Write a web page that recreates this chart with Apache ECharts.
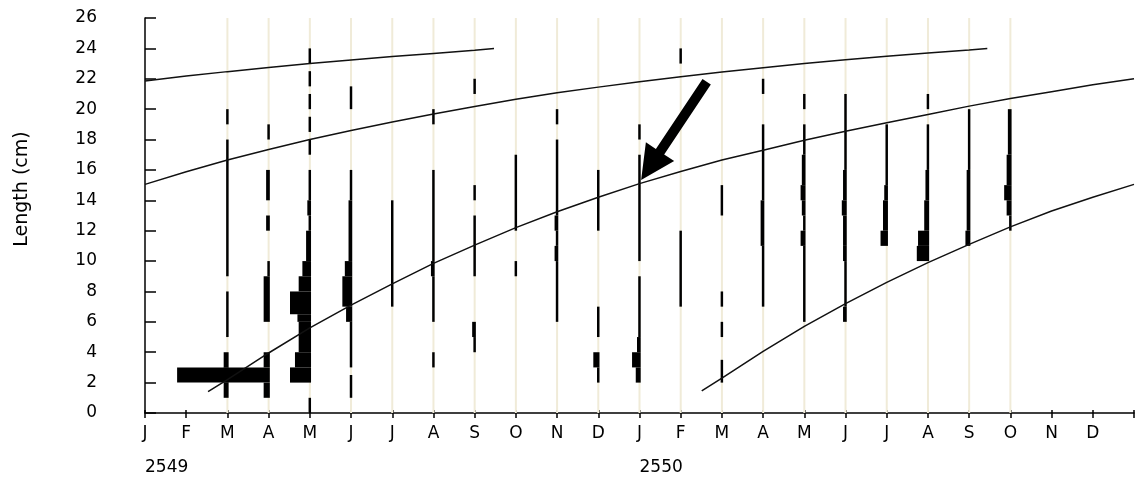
<!DOCTYPE html>
<html><head><meta charset="utf-8">
<script src="https://cdn.jsdelivr.net/npm/echarts@6/dist/echarts.min.js"></script>
<style>html,body{margin:0;padding:0;background:#fff}#c{width:1137px;height:480px}</style>
</head><body><div id="c"></div>
<script>
// ---- data ----
const monthLabels = ['J','F','M','A','M','J','J','A','S','O','N','D','J','F','M','A','M','J','J','A','S','O','N','D'];
const yearTicks = [0, 12];
const yearNames = ['2549', '2550'];
const yAxisName = 'Length (cm)';
// sample dates (month index from J 2549)
const sampleMonths = [2,3,4,5,6,7,8,9,10,11,12,13,14,15,16,17,18,19,20,21];
// length-frequency histograms: [month, class low (cm), class high (cm), relative frequency]
const histogram = [
  [2,19,20,2],[2,9,18,2],[2,5,8,2],[2,3,4,4],[2,2,3,4],[2,1,2,4],
  [3,18,19,2],[3,14,16,3],[3,12,13,3],[3,9,10,2],[3,6,9,5],[3,3,4,5],[3,2,3,75],[3,1,2,5],
  [4,23,24,2],[4,21.5,22.5,2],[4,20,21,2],[4,18.5,19.5,2],[4,17,18,2],[4,14,16,2],[4,13,14,3],[4,12,13,2],
  [4,10,12,4],[4,9,10,7],[4,8,9,10],[4,6.5,8,17],[4,6,6.5,11],[4,4,6,10],[4,3,4,13],[4,2,3,17],[4,0,1,2],
  [5,20,21.5,2],[5,14,16,2],[5,10,14,3],[5,9,10,6],[5,7,9,8],[5,6,7,5],[5,3,6,2],[5,1,2.5,2],
  [6,7,14,2],
  [7,19,20,2],[7,10,16,2],[7,9,10,3],[7,6,9,2],[7,3,4,2],
  [8,21,22,2],[8,14,15,2],[8,9,13,2],[8,5,6,3],[8,4,5,2],
  [9,12,17,2],[9,9,10,2],
  [10,19,20,2],[10,13,18,2],[10,12,13,3],[10,11,12,2],[10,10,11,3],[10,6,10,2],
  [11,12,16,2],[11,5,7,2],[11,3,4,5],[11,2,3,2],
  [12,18,19,2],[12,10,17,2],[12,5,9,2],[12,4,5,3],[12,3,4,7],[12,2,3,4],
  [13,23,24,2],[13,7,12,2],
  [14,13,15,2],[14,7,8,2],[14,5,6,2],[14,2,3.5,2],
  [15,21,22,2],[15,14,19,2],[15,11,14,3],[15,7,11,2],
  [16,20,21,2],[16,17,19,2],[16,15,17,3],[16,14,15,4],[16,13,14,3],[16,12,13,2],[16,11,12,4],[16,6,11,2],
  [17,16,21,2],[17,14,16,3],[17,13,14,4],[17,11,13,3],[17,10,11,3],[17,7,10,2],[17,6,7,3],
  [18,15,19,2],[18,14,15,3],[18,12,14,4],[18,11,12,6],
  [19,20,21,2],[19,16,19,2],[19,14,16,3],[19,12,14,4],[19,11,12,9],[19,10,11,10],
  [20,16,20,2],[20,12,16,3],[20,11,12,4],
  [21,17,20,3],[21,15,17,4],[21,14,15,6],[21,13,14,4],[21,12,13,2]
];
// growth curves: [month, length]
const curveA = [[0,21.86],[1,22.18],[2,22.47],[3,22.74],[4,23.0],[5,23.24],[6,23.46],[7,23.67],[8,23.88],[8.47,24.0]];
const curveB = [[0,15.05],[1,15.88],[2,16.65],[3,17.35],[4,18.0],[5,18.6],[6,19.15],[7,19.68],[8,20.18],[9,20.65],[10,21.08],
  [11,21.45],[12,21.8],[13,22.14],[14,22.45],[15,22.73],[16,23.0],[17,23.25],[18,23.48],[19,23.69],[20,23.89],[20.44,24.0]];
const curveC = [[1.53,1.4],[2,2.2],[3,3.95],[4,5.6],[5,7.1],[6,8.5],[7,9.85],[8,11.05],[9,12.2],[10,13.25],[11,14.2],[12,15.1],
  [13,15.9],[14,16.65],[15,17.3],[16,17.95],[17,18.55],[18,19.1],[19,19.65],[20,20.2],[21,20.7],[22,21.15],[23,21.6],[24,22.0]];
const curveD = [[13.51,1.45],[14,2.3],[15,4.05],[16,5.7],[17,7.2],[18,8.6],[19,9.9],[20,11.1],[21,12.25],[22,13.3],[23,14.2],[24,15.05]];
// annotation arrow (data coords)
const arrowTail = [13.63, 21.8];
const arrowTip = [12.04, 15.34];

// ---- chart ----
const FREQ_UNIT = 0.03; // months of width per frequency unit
const FONT = 'DejaVu Sans';
const chart = echarts.init(document.getElementById('c'), null, {renderer:'canvas'});

function curveSeries(d){
  return {type:'line', data:d, xAxisIndex:0, yAxisIndex:0, showSymbol:false, smooth:false,
    silent:true, z:5, lineStyle:{color:'#111', width:1.5}};
}

chart.setOption({
  animation:false,
  backgroundColor:'#fff',
  grid:{left:145, right:0, top:18, bottom:67},
  xAxis:[
    {type:'value', min:0, max:24, interval:1, position:'bottom',
     axisLine:{show:true, lineStyle:{color:'#000', width:1.5}},
     axisTick:{show:true, inside:false, length:5, lineStyle:{color:'#000', width:1.5}},
     splitLine:{show:false},
     axisLabel:{show:true, margin:12, color:'#000', fontFamily:FONT, fontSize:17,
       formatter:v => monthLabels[Math.round(v)] || ''}},
    {type:'value', min:0, max:24, interval:12, position:'bottom', offset:36,
     axisLine:{show:false}, axisTick:{show:false}, splitLine:{show:false},
     axisLabel:{show:true, margin:10, color:'#000', fontFamily:FONT, fontSize:17, align:'left',
       formatter:v => { const i = yearTicks.indexOf(Math.round(v)); return i >= 0 ? yearNames[i] : ''; }}},
    {type:'value', min:0, max:24, interval:1, position:'bottom',
     axisLine:{show:false}, axisLabel:{show:false}, splitLine:{show:false},
     axisTick:{show:true, inside:true, length:3, lineStyle:{color:'#000', width:1.5}}}
  ],
  yAxis:[{type:'value', min:0, max:26, interval:2, offset:35,
    axisLine:{show:true, lineStyle:{color:'#000', width:1.5}},
    axisTick:{show:true, inside:true, length:11, lineStyle:{color:'#000', width:1.5}},
    splitLine:{show:false},
    axisLabel:{margin:13, color:'#000', fontFamily:FONT, fontSize:17}}],
  series:[
    {type:'custom', xAxisIndex:0, yAxisIndex:0, z:1, silent:true,
     data: sampleMonths.map(m => [m]),
     encode:{x:0},
     renderItem:(params, api) => {
       const m = api.value(0);
       const p0 = api.coord([m, 0]), p1 = api.coord([m, 26]);
       return {type:'line', shape:{x1:p0[0], y1:p0[1], x2:p1[0], y2:p1[1]},
         style:{stroke:'#f0ebd8', lineWidth:2}};
     }},
    {type:'custom', xAxisIndex:0, yAxisIndex:0, z:3, silent:true,
     data: histogram,
     encode:{x:0, y:[1,2]},
     renderItem:(params, api) => {
       const m = api.value(0), lo = api.value(1), hi = api.value(2), f = api.value(3);
       const pLo = api.coord([m, lo]), pHi = api.coord([m, hi]);
       const w = api.size([f * FREQ_UNIT, 0])[0];
       const right = pLo[0] + 1.2;
       return {type:'rect', shape:{x:right - w, y:pHi[1], width:w, height:pLo[1] - pHi[1]},
         style:{fill:'#000'}};
     }},
    curveSeries(curveA), curveSeries(curveB), curveSeries(curveC), curveSeries(curveD)
  ]
});

// y axis title and arrow annotation
const t = chart.convertToPixel({xAxisIndex:0, yAxisIndex:0}, arrowTail);
const h = chart.convertToPixel({xAxisIndex:0, yAxisIndex:0}, arrowTip);
const dx = h[0]-t[0], dy = h[1]-t[1], L = Math.hypot(dx, dy);
const ux = dx/L, uy = dy/L, nx = -uy, ny = ux;
const headLen = 34, headHalf = 17, shaftHalf = 5;
const bx = h[0] - ux*headLen, by = h[1] - uy*headLen;
const pts = [
  [t[0]+nx*shaftHalf, t[1]+ny*shaftHalf],
  [bx+nx*shaftHalf, by+ny*shaftHalf],
  [bx+nx*headHalf, by+ny*headHalf],
  [h[0], h[1]],
  [bx-nx*headHalf, by-ny*headHalf],
  [bx-nx*shaftHalf, by-ny*shaftHalf],
  [t[0]-nx*shaftHalf, t[1]-ny*shaftHalf]
];
chart.setOption({graphic:[
  {type:'polygon', shape:{points:pts}, style:{fill:'#000'}, z:10, silent:true},
  {type:'text', x:22, y:189, rotation:Math.PI/2, silent:true,
   style:{text:yAxisName, font:'19px "DejaVu Sans"', fill:'#000', align:'center', verticalAlign:'middle'}}
]});
</script>
</body></html>
